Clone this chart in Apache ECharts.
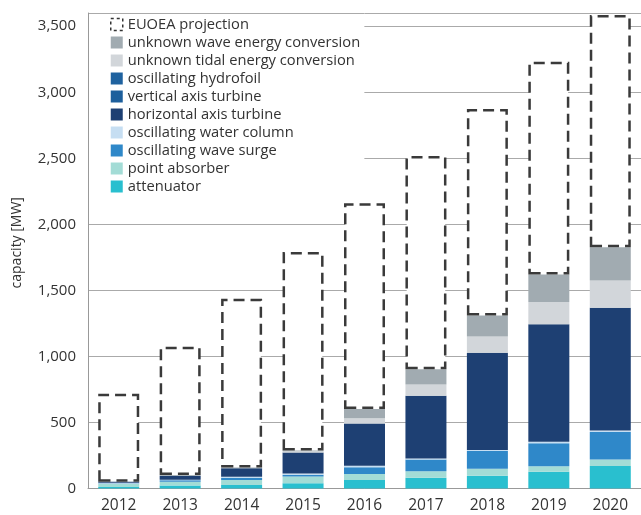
<!DOCTYPE html>
<html>
<head>
<meta charset="utf-8">
<script src="https://cdn.jsdelivr.net/npm/echarts@6/dist/echarts.min.js"></script>
<style>
  html, body { margin: 0; padding: 0; background: #fff; }
  #chart { width: 641px; height: 515px; }
</style>
</head>
<body>
<div id="chart"></div>
<script>
// data, stacked bottom -> top
const years = ['2012', '2013', '2014', '2015', '2016', '2017', '2018', '2019', '2020'];
const attenuator     = [12, 22, 26, 40, 64, 81, 96, 126, 171];
const pointAbsorber  = [22, 30, 38, 50, 45, 50, 53, 43, 48];
const waveSurge      = [3, 10, 17, 14, 51, 88, 134, 174, 209];
const waterColumn    = [6, 5, 8, 10, 12, 8, 8, 10, 12];
const horizontalAxis = [8, 30, 65, 158, 321, 475, 737, 890, 929];
const verticalAxis   = [0, 0, 0, 0, 0, 0, 0, 0, 0];
const hydrofoil      = [0, 0, 0, 0, 0, 0, 0, 0, 0];
const unknownTidal   = [0, 0, 0, 10, 38, 86, 123, 169, 206];
const unknownWave    = [0, 5, 5, 6, 70, 114, 159, 209, 252];
// EUOEA projected total capacity
const projection     = [718, 1073, 1436, 1791, 2159, 2517, 2873, 3231, 3584];

const layers = [
  { name: 'attenuator', data: attenuator, color: '#29bfcf' },
  { name: 'point absorber', data: pointAbsorber, color: '#a3dcd6' },
  { name: 'oscillating wave surge', data: waveSurge, color: '#2f88c9' },
  { name: 'oscillating water column', data: waterColumn, color: '#c6def2' },
  { name: 'horizontal axis turbine', data: horizontalAxis, color: '#1e4073' },
  { name: 'vertical axis turbine', data: verticalAxis, color: '#1d5f9c' },
  { name: 'oscillating hydrofoil', data: hydrofoil, color: '#1f629f' },
  { name: 'unknown tidal energy conversion', data: unknownTidal, color: '#d2d6da' },
  { name: 'unknown wave energy conversion', data: unknownWave, color: '#a1abb1' }
];

const totals = years.map((y, i) => layers.reduce((s, l) => s + l.data[i], 0));

const series = layers.map(l => ({
  name: l.name,
  type: 'bar',
  stack: 'cap',
  barWidth: 41,
  data: l.data,
  itemStyle: { color: l.color },
  emphasis: { disabled: true }
}));

series.push({
  name: 'EUOEA projection',
  type: 'bar',
  stack: 'cap',
  barWidth: 41,
  data: projection.map((p, i) => p - totals[i]),
  itemStyle: {
    color: '#fff',
    borderColor: '#3a3a3a',
    borderWidth: 2.5,
    borderType: [11, 6]
  },
  emphasis: { disabled: true }
});

const legendData = [{
  name: 'EUOEA projection',
  itemStyle: { color: '#fff', borderColor: '#333', borderWidth: 1.5, borderType: [3, 3] }
}].concat(layers.slice().reverse().map(l => ({ name: l.name })));

const chart = echarts.init(document.getElementById('chart'));
chart.setOption({
  animation: false,
  textStyle: { fontFamily: 'Open Sans' },
  grid: { left: 88, right: -4, top: 13, bottom: 26.5 },
  legend: {
    data: legendData,
    orient: 'vertical',
    left: 89,
    top: 14,
    padding: [3, 4, 4, 21],
    backgroundColor: '#fff',
    icon: 'rect',
    itemWidth: 12,
    itemHeight: 12,
    itemGap: 3,
    selectedMode: false,
    textStyle: { fontSize: 14.7, color: '#333', fontFamily: 'Open Sans' }
  },
  xAxis: {
    type: 'category',
    data: years,
    axisLine: { lineStyle: { color: '#999' } },
    axisTick: { length: 4, lineStyle: { color: '#999' } },
    axisLabel: { fontSize: 15.5, color: '#333', margin: 9 }
  },
  yAxis: {
    type: 'value',
    min: 0,
    max: 3600,
    interval: 500,
    name: 'capacity [MW]',
    nameLocation: 'middle',
    nameGap: 64,
    nameTextStyle: { fontSize: 14, color: '#333', padding: [0, 0, 0, 16] },
    axisLine: { show: true, lineStyle: { color: '#999' } },
    axisTick: { show: false },
    axisLabel: {
      fontSize: 15,
      color: '#333',
      margin: 12,
      showMaxLabel: false,
      formatter: v => String(v).replace(/\B(?=(\d{3})+(?!\d))/g, ',')
    },
    splitLine: { lineStyle: { color: '#aaa' } }
  },
  series: series
});
</script>
</body>
</html>
